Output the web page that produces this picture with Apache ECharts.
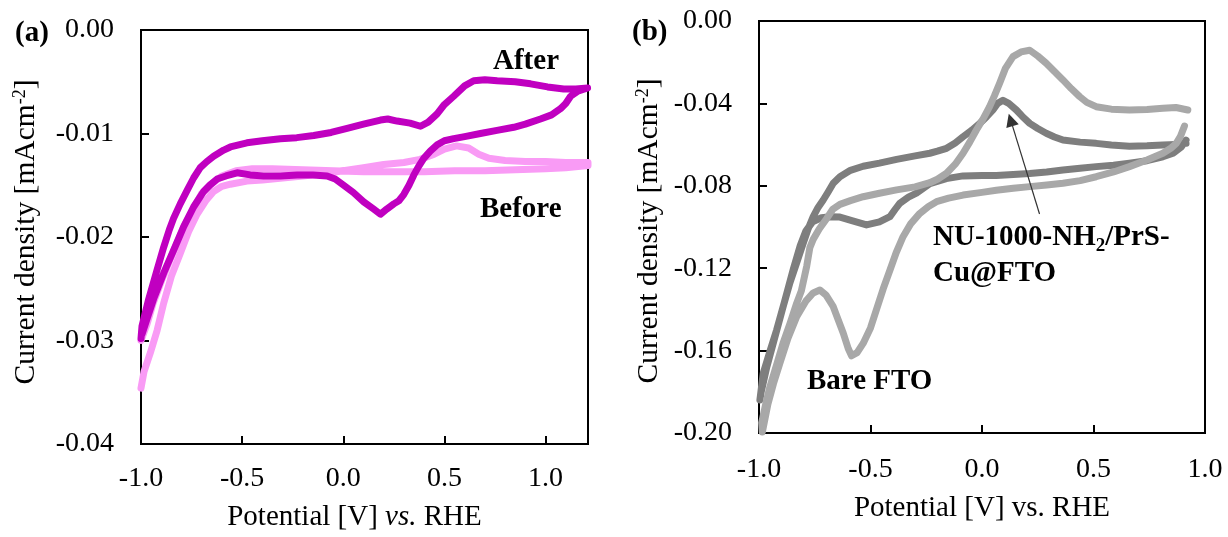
<!DOCTYPE html>
<html>
<head>
<meta charset="utf-8">
<script src="https://cdn.jsdelivr.net/npm/echarts@6.0.0/dist/echarts.min.js"></script>
<style>
  html, body { margin: 0; padding: 0; background: #fff; }
  #chart { width: 1228px; height: 537px; }
</style>
</head>
<body>
<div id="chart"></div>
<script>
// ---------- Panel (a): CV before / after, [potential V, current density mA cm^-2] ----------
const afterForward = [
  [-1.000, -0.0298], [-0.995, -0.0286], [-0.962, -0.0260], [-0.921, -0.0232], [-0.888, -0.0210],
  [-0.860, -0.0193], [-0.839, -0.0182], [-0.806, -0.0168], [-0.772, -0.0155], [-0.740, -0.0143],
  [-0.707, -0.0133], [-0.674, -0.0127], [-0.641, -0.0122], [-0.591, -0.0116], [-0.558, -0.0113],
  [-0.476, -0.0109], [-0.400, -0.0107], [-0.311, -0.0105], [-0.230, -0.0104], [-0.146, -0.0102],
  [-0.060, -0.0099], [0.019, -0.0095], [0.100, -0.0091], [0.184, -0.0087], [0.220, -0.0086],
  [0.266, -0.0088], [0.330, -0.0090], [0.382, -0.0093], [0.420, -0.0089], [0.464, -0.0081],
  [0.500, -0.0072], [0.546, -0.0064], [0.600, -0.0054], [0.645, -0.0049], [0.700, -0.0048],
  [0.761, -0.0049], [0.850, -0.0050], [0.926, -0.0052], [1.010, -0.0055], [1.090, -0.0057],
  [1.150, -0.0057], [1.208, -0.0056]
];
const afterReverse = [
  [1.208, -0.0056], [1.160, -0.0059], [1.124, -0.0064], [1.100, -0.0071], [1.074, -0.0076],
  [1.030, -0.0082], [0.975, -0.0086], [0.900, -0.0091], [0.843, -0.0094], [0.760, -0.0097],
  [0.678, -0.0100], [0.600, -0.0103], [0.546, -0.0105], [0.500, -0.0107], [0.464, -0.0111],
  [0.430, -0.0117], [0.398, -0.0124], [0.372, -0.0132], [0.349, -0.0140], [0.325, -0.0150],
  [0.299, -0.0159], [0.275, -0.0165], [0.250, -0.0168], [0.215, -0.0173], [0.184, -0.0178],
  [0.150, -0.0173], [0.101, -0.0166], [0.050, -0.0157], [0.002, -0.0150], [-0.040, -0.0144],
  [-0.080, -0.0141], [-0.150, -0.0140], [-0.228, -0.0140], [-0.310, -0.0141], [-0.394, -0.0141],
  [-0.460, -0.0140], [-0.525, -0.0138], [-0.580, -0.0141], [-0.624, -0.0144], [-0.660, -0.0150],
  [-0.690, -0.0156], [-0.740, -0.0171], [-0.789, -0.0190], [-0.839, -0.0213], [-0.888, -0.0235],
  [-0.938, -0.0260], [-0.970, -0.0279], [-0.995, -0.0294]
];
const beforeForward = [
  [-1.000, -0.0346], [-0.985, -0.0330], [-0.954, -0.0312], [-0.920, -0.0290], [-0.888, -0.0264],
  [-0.850, -0.0238], [-0.806, -0.0216], [-0.765, -0.0195], [-0.723, -0.0178], [-0.680, -0.0165],
  [-0.641, -0.0156], [-0.600, -0.0151], [-0.558, -0.0149], [-0.476, -0.0146], [-0.400, -0.0145],
  [-0.300, -0.0143], [-0.200, -0.0141], [-0.100, -0.0139], [0.000, -0.0136], [0.100, -0.0133],
  [0.200, -0.0130], [0.300, -0.0128], [0.380, -0.0125], [0.450, -0.0120], [0.500, -0.0115],
  [0.560, -0.0112], [0.620, -0.0114], [0.670, -0.0120], [0.720, -0.0124], [0.800, -0.0126],
  [0.900, -0.0127], [1.000, -0.0127], [1.100, -0.0128], [1.210, -0.0128]
];
const beforeReverse = [
  [1.210, -0.0131], [1.100, -0.0133], [1.000, -0.0134], [0.850, -0.0135], [0.700, -0.0136],
  [0.550, -0.0136], [0.400, -0.0137], [0.250, -0.0137], [0.100, -0.0137], [-0.050, -0.0136],
  [-0.200, -0.0135], [-0.350, -0.0134], [-0.450, -0.0134], [-0.530, -0.0136], [-0.600, -0.0141],
  [-0.660, -0.0150], [-0.700, -0.0158], [-0.740, -0.0172], [-0.790, -0.0191], [-0.840, -0.0214],
  [-0.890, -0.0238], [-0.940, -0.0264], [-0.970, -0.0284], [-1.000, -0.0300]
];

// ---------- Panel (b): NU-1000-NH2/PrS-Cu@FTO and bare FTO ----------
const nuUpper = [
  [0.915, -0.0594], [0.870, -0.0600], [0.811, -0.0602], [0.740, -0.0606], [0.661, -0.0608],
  [0.580, -0.0602], [0.512, -0.0594], [0.440, -0.0588], [0.363, -0.0578], [0.325, -0.0563],
  [0.288, -0.0545], [0.250, -0.0522], [0.214, -0.0497], [0.180, -0.0462], [0.154, -0.0432],
  [0.120, -0.0400], [0.094, -0.0385], [0.070, -0.0400], [0.049, -0.0432], [0.020, -0.0466],
  [-0.010, -0.0497], [-0.045, -0.0530], [-0.085, -0.0562], [-0.120, -0.0592], [-0.159, -0.0618],
  [-0.200, -0.0632], [-0.234, -0.0642], [-0.300, -0.0655], [-0.383, -0.0672], [-0.460, -0.0690],
  [-0.533, -0.0705], [-0.590, -0.0725], [-0.637, -0.0756], [-0.667, -0.0788], [-0.690, -0.0830],
  [-0.712, -0.0869], [-0.735, -0.0905], [-0.757, -0.0950], [-0.780, -0.1010], [-0.802, -0.1080],
  [-0.830, -0.1170], [-0.861, -0.1270], [-0.890, -0.1380], [-0.921, -0.1500], [-0.950, -0.1600],
  [-0.981, -0.1710], [-0.996, -0.1840]
];
const nuLower = [
  [-0.990, -0.1800], [-0.965, -0.1680], [-0.935, -0.1560], [-0.905, -0.1440], [-0.875, -0.1320],
  [-0.845, -0.1200], [-0.815, -0.1090], [-0.790, -0.1020], [-0.760, -0.0975], [-0.720, -0.0955],
  [-0.680, -0.0950], [-0.637, -0.0952], [-0.580, -0.0970], [-0.518, -0.0990], [-0.460, -0.0975],
  [-0.413, -0.0950], [-0.390, -0.0915], [-0.369, -0.0885], [-0.330, -0.0855], [-0.294, -0.0836],
  [-0.234, -0.0790], [-0.160, -0.0765], [-0.085, -0.0752], [0.000, -0.0750], [0.064, -0.0750],
  [0.140, -0.0745], [0.214, -0.0740], [0.290, -0.0733], [0.363, -0.0723], [0.440, -0.0715],
  [0.512, -0.0707], [0.590, -0.0700], [0.661, -0.0690], [0.740, -0.0678], [0.811, -0.0659],
  [0.860, -0.0640], [0.895, -0.0610], [0.915, -0.0578]
];
const bareUpper = [
  [0.923, -0.0432], [0.870, -0.0420], [0.811, -0.0424], [0.740, -0.0430], [0.661, -0.0432],
  [0.580, -0.0428], [0.512, -0.0416], [0.470, -0.0395], [0.438, -0.0367], [0.400, -0.0328],
  [0.363, -0.0286], [0.325, -0.0245], [0.288, -0.0205], [0.250, -0.0170], [0.214, -0.0142],
  [0.175, -0.0150], [0.139, -0.0173], [0.105, -0.0230], [0.079, -0.0302], [0.055, -0.0365],
  [0.034, -0.0416], [0.005, -0.0475], [-0.025, -0.0529], [-0.055, -0.0588], [-0.085, -0.0642],
  [-0.120, -0.0695], [-0.159, -0.0739], [-0.200, -0.0768], [-0.234, -0.0785], [-0.300, -0.0805],
  [-0.383, -0.0820], [-0.460, -0.0836], [-0.533, -0.0853], [-0.590, -0.0872], [-0.637, -0.0890],
  [-0.670, -0.0915], [-0.697, -0.0960], [-0.730, -0.1010], [-0.757, -0.1060], [-0.772, -0.1100],
  [-0.786, -0.1190], [-0.810, -0.1310], [-0.831, -0.1370], [-0.860, -0.1465], [-0.891, -0.1560],
  [-0.920, -0.1665], [-0.951, -0.1775], [-0.970, -0.1860], [-0.988, -0.1950]
];
const bareLower = [
  [-0.985, -0.1995], [-0.960, -0.1860], [-0.935, -0.1760], [-0.906, -0.1660], [-0.870, -0.1540],
  [-0.831, -0.1435], [-0.790, -0.1360], [-0.757, -0.1320], [-0.727, -0.1306], [-0.700, -0.1330],
  [-0.667, -0.1387], [-0.645, -0.1450], [-0.622, -0.1516], [-0.600, -0.1590], [-0.585, -0.1625],
  [-0.560, -0.1610], [-0.533, -0.1565], [-0.500, -0.1490], [-0.473, -0.1400], [-0.443, -0.1300],
  [-0.413, -0.1210], [-0.385, -0.1125], [-0.354, -0.1047], [-0.320, -0.0985], [-0.279, -0.0934],
  [-0.240, -0.0900], [-0.204, -0.0877], [-0.150, -0.0860], [-0.085, -0.0845], [0.000, -0.0832],
  [0.064, -0.0822], [0.140, -0.0812], [0.214, -0.0804], [0.290, -0.0796], [0.363, -0.0788],
  [0.440, -0.0775], [0.512, -0.0756], [0.590, -0.0733], [0.661, -0.0707], [0.740, -0.0675],
  [0.811, -0.0642], [0.850, -0.0615], [0.871, -0.0594], [0.890, -0.0560], [0.908, -0.0510]
];

// arrow pointing at the NU-1000 oxidation peak (data coordinates)
const arrowTail = [0.258, -0.0937];
const arrowHead = [0.1285, -0.0480];

// axis ranges
const axisA = { xMin: -1.0, xMax: 1.21, xStep: 0.5, yMin: -0.04, yMax: 0, yStep: 0.01 };
const axisB = { xMin: -1.0, xMax: 1.0, xStep: 0.5, yMin: -0.20, yMax: 0, yStep: 0.04 };

const FONT = '"Liberation Serif", "Times New Roman", serif';
const C_AFTER = '#C000C0';
const C_BEFORE = '#F99BF5';
const C_NU = '#7E7E7E';
const C_BARE = '#A8A8A8';

function xAxisCfg(idx, ax, nameRich) {
  return {
    type: 'value', gridIndex: idx, min: ax.xMin, max: ax.xMax, interval: ax.xStep,
    axisLine: { show: true, onZero: false, lineStyle: { color: '#000', width: 2 } },
    axisTick: { show: true, inside: true, length: 8, lineStyle: { color: '#000', width: 2 } },
    splitLine: { show: false },
    axisLabel: {
      color: '#000', fontFamily: FONT, fontSize: 28, margin: idx === 0 ? 21 : 23,
      showMaxLabel: idx === 0 ? false : true,
      formatter: v => v.toFixed(1)
    },
    name: nameRich.text, nameLocation: 'middle', nameGap: idx === 0 ? 59 : 61,
    nameTextStyle: {
      color: '#000', fontFamily: FONT, fontSize: 29,
      padding: nameRich.padding, rich: nameRich.rich
    }
  };
}

function yAxisCfg(idx, ax, gap, pad) {
  return {
    type: 'value', gridIndex: idx, min: ax.yMin, max: ax.yMax, interval: ax.yStep,
    axisLine: { show: true, onZero: false, lineStyle: { color: '#000', width: 2 } },
    axisTick: { show: true, inside: true, length: 8, lineStyle: { color: '#000', width: 2 } },
    splitLine: { show: false },
    axisLabel: {
      color: '#000', fontFamily: FONT, fontSize: 28, margin: 27,
      formatter: v => (Math.abs(v) < 1e-9 ? 0 : v).toFixed(2)
    },
    name: 'Current density [mAcm{sup|-2}]', nameLocation: 'middle', nameGap: gap,
    nameRotate: 90,
    nameTextStyle: {
      color: '#000', fontFamily: FONT, fontSize: 29.5, padding: pad,
      rich: { sup: { fontFamily: FONT, fontSize: 18, color: '#000', verticalAlign: 'top', lineHeight: 29 } }
    }
  };
}

function cvLine(xi, data, color, z) {
  return {
    type: 'line', xAxisIndex: xi, yAxisIndex: xi, data: data,
    symbol: 'none', showSymbol: false, smooth: false, z: z,
    lineStyle: { color: color, width: 7, cap: 'round', join: 'round' },
    emphasis: { disabled: true }, animation: false
  };
}

const nuSeries = cvLine(1, nuUpper.concat(nuLower), C_NU, 2);
nuSeries.markLine = {
  silent: true, animation: false,
  symbol: ['none', 'triangle'], symbolSize: 13,
  label: { show: false },
  lineStyle: { color: '#333333', width: 1.2, type: 'solid' },
  data: [[{ coord: arrowTail }, { coord: arrowHead }]]
};

const boldText = (x, y, text, extra) => ({
  type: 'text', x: x, y: y, silent: true,
  style: Object.assign({
    text: text, fill: '#000', font: 'bold 29px ' + FONT,
    align: 'left', verticalAlign: 'middle'
  }, extra || {})
});

const option = {
  backgroundColor: '#fff',
  animation: false,
  grid: [
    { left: 141, top: 30, width: 447, height: 420, show: true, borderColor: '#000', borderWidth: 2, backgroundColor: 'transparent' },
    { left: 759, top: 21, width: 446, height: 412, show: true, borderColor: '#000', borderWidth: 2, backgroundColor: 'transparent' }
  ],
  xAxis: [
    xAxisCfg(0, axisA, {
      text: 'Potential [V] {i|vs.} RHE', padding: [0, 20, 0, 0],
      rich: { i: { fontFamily: FONT, fontSize: 29, fontStyle: 'italic', color: '#000' } }
    }),
    xAxisCfg(1, axisB, { text: 'Potential [V] vs. RHE', padding: 0, rich: {} })
  ],
  yAxis: [yAxisCfg(0, axisA, 100, [0, 0, 0, 10]), yAxisCfg(1, axisB, 95, [0, 8, 0, 0])],
  series: [
    cvLine(0, beforeForward.concat(beforeReverse), C_BEFORE, 2),
    cvLine(0, afterForward.concat(afterReverse), C_AFTER, 3),
    nuSeries,
    cvLine(1, bareUpper.concat(bareLower), C_BARE, 3)
  ],
  graphic: [
    boldText(15, 34, '(a)', { font: 'bold 29px ' + FONT }),
    boldText(632, 33, '(b)', { font: 'bold 29px ' + FONT }),
    boldText(493, 62, 'After'),
    boldText(480, 210, 'Before'),
    boldText(807, 382, 'Bare FTO'),
    {
      type: 'text', x: 933, y: 220, silent: true,
      style: {
        text: 'NU-1000-NH{sub|2}/PrS-\nCu@FTO', fill: '#000', font: 'bold 29px ' + FONT,
        align: 'left', verticalAlign: 'top', lineHeight: 36,
        rich: { sub: { fontFamily: FONT, fontWeight: 'bold', fontSize: 19, fill: '#000', verticalAlign: 'bottom', lineHeight: 31 } }
      }
    }
  ]
};

const chart = echarts.init(document.getElementById('chart'), null, { renderer: 'canvas' });
chart.setOption(option);
</script>
</body>
</html>
